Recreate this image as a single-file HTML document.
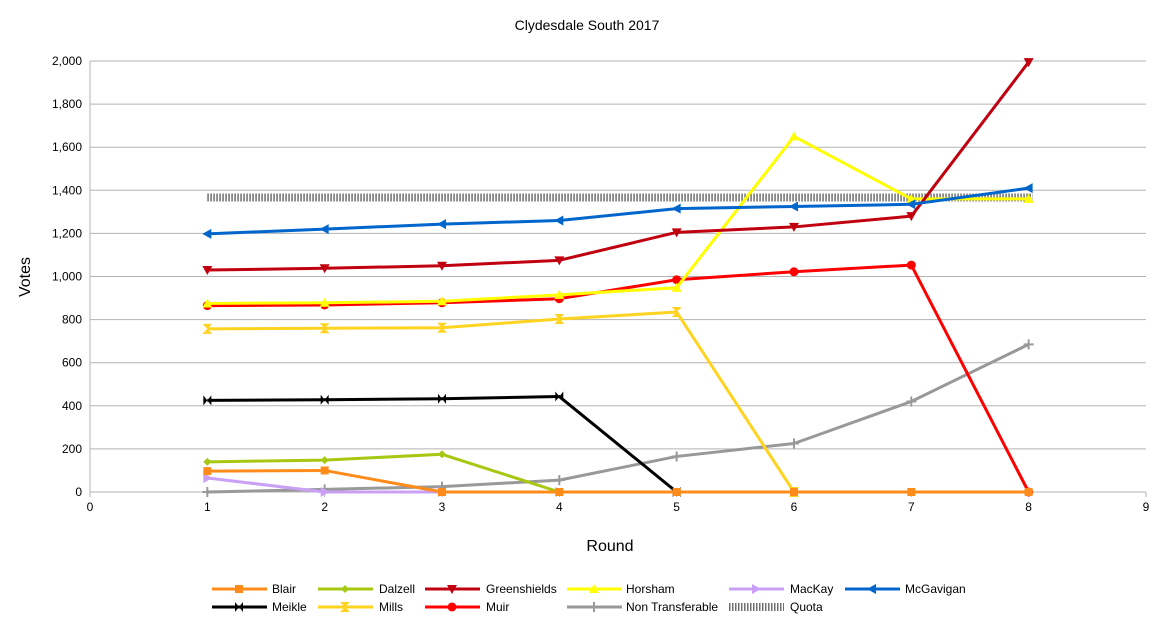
<!DOCTYPE html>
<html><head><meta charset="utf-8"><style>
html,body{margin:0;padding:0;background:#fff;}
svg{display:block;font-family:"Liberation Sans",sans-serif;}
</style></head><body>
<svg id="s" width="1176" height="624" viewBox="0 0 1176 624" xmlns="http://www.w3.org/2000/svg">
<rect width="1176" height="624" fill="#fff"/>
<text x="587" y="30" font-size="14" text-anchor="middle">Clydesdale South 2017</text>
<text x="610" y="551" font-size="16" text-anchor="middle">Round</text>
<text transform="translate(30,277) rotate(-90)" font-size="16" text-anchor="middle">Votes</text>
<g id="grid"></g><g id="series"></g><g id="legend"></g>
</svg>
<script>
var NS="http://www.w3.org/2000/svg";
function el(p,t,a,txt){var e=document.createElementNS(NS,t);for(var k in a)e.setAttribute(k,a[k]);if(txt!=null)e.textContent=txt;p.appendChild(e);return e;}
var g=document.getElementById('grid'),S=document.getElementById('series'),L=document.getElementById('legend');
var X0=90,DX=117.33,Y0=492,DY=431/2000;
function px(i){return X0+i*DX;}function py(v){return Y0-v*DY;}
for(var v=0;v<=2000;v+=200){var y=py(v);el(g,'line',{x1:X0,x2:1146,y1:y,y2:y,stroke:'#b3b3b3','stroke-width':1});
el(g,'text',{x:82,y:y+4,'font-size':12,'text-anchor':'end'},v.toLocaleString('en-US'));}
el(g,'line',{x1:X0,x2:X0,y1:61,y2:Y0,stroke:'#b3b3b3'});
for(var i=0;i<=9;i++){el(g,'line',{x1:px(i),x2:px(i),y1:Y0,y2:Y0+5,stroke:'#b3b3b3'});el(g,'text',{x:px(i),y:511,'font-size':12,'text-anchor':'middle'},String(i));}
function marker(p,t,x,y,c){
if(t=='sq')el(p,'rect',{x:x-4,y:y-4,width:8,height:8,fill:c});
else if(t=='dia')el(p,'polygon',{points:[x,y-4,x+4,y,x,y+4,x-4,y].join(' '),fill:c});
else if(t=='dn')el(p,'polygon',{points:[x-5,y-4,x+5,y-4,x,y+5].join(' '),fill:c});
else if(t=='up')el(p,'polygon',{points:[x-5,y+4,x+5,y+4,x,y-5].join(' '),fill:c});
else if(t=='rt')el(p,'polygon',{points:[x-4,y-5,x-4,y+5,x+5,y].join(' '),fill:c});
else if(t=='lt')el(p,'polygon',{points:[x+4,y-5,x+4,y+5,x-5,y].join(' '),fill:c});
else if(t=='bow')el(p,'polygon',{points:[x-4,y-5,x+4,y+5,x+4,y-5,x-4,y+5].join(' '),fill:c});
else if(t=='hg')el(p,'polygon',{points:[x-5,y-5,x+5,y-5,x-5,y+5,x+5,y+5].join(' '),fill:c});
else if(t=='ci')el(p,'circle',{cx:x,cy:y,r:4.5,fill:c});
else if(t=='pl'){el(p,'line',{x1:x-5,x2:x+5,y1:y,y2:y,stroke:c,'stroke-width':2});el(p,'line',{x1:x,x2:x,y1:y-5,y2:y+5,stroke:c,'stroke-width':2});}
}
var D=[
['Blair','#ff8c1a','sq',[97,100,0,0,0,0,0,0]],
['Dalzell','#a6c812','dia',[140,148,175,0]],
['Greenshields','#c0000f','dn',[1030,1038,1050,1075,1205,1230,1280,1995]],
['Horsham','#ffff00','up',[875,878,885,915,948,1650,1360,1360]],
['MacKay','#c9a0f5','rt',[65,0,0,0]],
['McGavigan','#0066cc','lt',[1198,1220,1243,1260,1315,1325,1335,1410]],
['Meikle','#000000','bow',[425,428,433,443,0]],
['Mills','#ffd320','hg',[757,760,762,803,835,0]],
['Muir','#ff0000','ci',[865,868,878,897,985,1022,1053,0]],
['Non Transferable','#999999','pl',[0,12,25,55,165,225,420,685]]];
function draw(k){var d=D[k];var pts=d[3].map(function(v,i){return px(i+1)+','+py(v);}).join(' ');
el(S,'polyline',{points:pts,fill:'none',stroke:d[1],'stroke-width':3,'stroke-linejoin':'round'});
d[3].forEach(function(v,i){marker(S,d[2],px(i+1),py(v),d[1]);});}
[9,4,1,6,7,8].forEach(draw);
el(S,'line',{x1:px(1),x2:px(8)+4,y1:197.5,y2:197.5,stroke:'#707070','stroke-width':8,'stroke-dasharray':'1.5 1.5'});
[0,3,2,5].forEach(draw);
var lx=[[212,272],[318,379],[425,486],[567,626],[729,790],[845,905]];
var items=D.concat([['Quota','#707070','q',null]]);
items.forEach(function(d,i){var r=i<6?0:1,c=i<6?i:i-6;var y=r?607:589;var a=lx[c][0],b=lx[c][1];
if(d[2]=='q'){el(L,'line',{x1:a,x2:a+55,y1:y,y2:y,stroke:'#707070','stroke-width':8,'stroke-dasharray':'1.5 1.5'});}
else{el(L,'line',{x1:a,x2:a+55,y1:y,y2:y,stroke:d[1],'stroke-width':3});marker(L,d[2],a+27,y,d[1]);}
el(L,'text',{x:b,y:y+4,'font-size':12},d[0]);});
</script>
</body></html>
